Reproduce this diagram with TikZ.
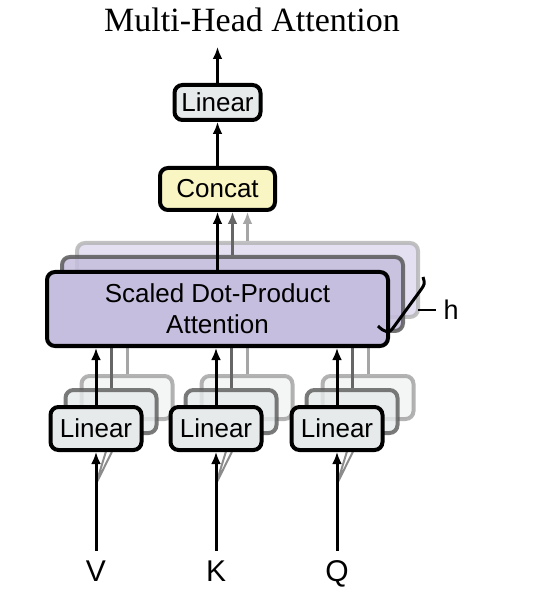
\documentclass[tikz,border=0pt]{standalone}
\usepackage{fontspec}
\setmainfont{Liberation Serif}
\setsansfont{Liberation Sans}
\usetikzlibrary{arrows.meta}
\definecolor{linfill}{HTML}{E6EAEA}
\definecolor{catfill}{HTML}{FAF6C4}
\definecolor{attfill}{HTML}{C6BEDE}
\definecolor{attback}{HTML}{DDD8EE}
\begin{document}
\begin{tikzpicture}[x=0.5pt, y=-0.5pt,
        box/.style={draw, line width=2pt, rounded corners=4pt, inner sep=0pt, align=center, font=\sffamily\fontsize{13}{15.5}\selectfont},
        lin/.style={box, fill=linfill, minimum width=45.5pt, minimum height=21.5pt},
        lintwo/.style={lin, draw=black!65, fill=linfill, opacity=0.8},
        linthree/.style={lin, draw=black!40, fill=linfill!60, opacity=0.75},
        att/.style={box, fill=attfill, minimum width=170.5pt, minimum height=37pt},
        atttwo/.style={att, draw=black!65, opacity=0.85},
        attthree/.style={att, draw=black!30, fill=attback, opacity=0.8},
        arr/.style={line width=1.5pt, -{Latex[length=6pt, width=5pt]}},
        shade/.style={line width=1.5pt},
        lab/.style={anchor=base, inner sep=4pt, text height=11pt, text depth=0pt, font=\sffamily\fontsize{15}{18}\selectfont}]
        \useasboundingbox (0,0) rectangle (543,597);
        \node[font=\fontsize{17}{20}\selectfont] (title) at (252,20) {Multi-Head Attention};
        \node[attthree] (sdpa3) at (247.5,280) {};
        \node[atttwo] (sdpa2) at (232.5,294) {};
        \node[linthree] (linV3) at (127,397.5) {};
        \node[lintwo] (linV2) at (111,411.5) {};
        \node[linthree] (linK3) at (247,397.5) {};
        \node[lintwo] (linK2) at (231,411.5) {};
        \node[linthree] (linQ3) at (368,397.5) {};
        \node[lintwo] (linQ2) at (352,411.5) {};
        \draw[shade, black!35] (linV3) -- (linV3 |- sdpa2.south);
        \draw[shade, black!60] (linV2) -- (linV2 |- sdpa2.south);
        \draw[shade, black!35] (linK3) -- (linK3 |- sdpa2.south);
        \draw[shade, black!60] (linK2) -- (linK2 |- sdpa2.south);
        \draw[shade, black!35] (linQ3) -- (linQ3 |- sdpa2.south);
        \draw[shade, black!60] (linQ2) -- (linQ2 |- sdpa2.south);
        \coordinate (splitV) at (96,484);
        \coordinate (splitK) at (216,484);
        \coordinate (splitQ) at (337,484);
        \draw[black!45, line width=1pt] (splitV) -- (linV2.south) (splitV) -- (linV3.south);
        \draw[black!45, line width=1pt] (splitK) -- (linK2.south) (splitK) -- (linK3.south);
        \draw[black!45, line width=1pt] (splitQ) -- (linQ2.south) (splitQ) -- (linQ3.south);
        \node[att] (sdpa) at (217.5,309) {Scaled Dot-Product\\Attention};
        \node[lin] (linV) at (96,428.5) {Linear};
        \node[lin] (linK) at (216,428.5) {Linear};
        \node[lin] (linQ) at (337,428.5) {Linear};
        \node[box, fill=catfill, minimum width=57.5pt, minimum height=21pt] (concat) at (217.5,189) {Concat};
        \node[box, fill=linfill, minimum width=43pt, minimum height=17.5pt] (linout) at (217.5,102.5) {Linear};
        \coordinate (out) at (217.5,47);
        \node[lab] (labV) at (96,581) {V};
        \node[lab] (labK) at (216,581) {K};
        \node[lab] (labQ) at (337,581) {Q};
        \draw[arr] (labV) -- (linV);
        \draw[arr] (labK) -- (linK);
        \draw[arr] (labQ) -- (linQ);
        \draw[arr] (linV) -- (linV |- sdpa.south);
        \draw[arr] (linK) -- (linK |- sdpa.south);
        \draw[arr] (linQ) -- (linQ |- sdpa.south);
        \draw[arr, black!35] (sdpa3) -- (sdpa3 |- concat.south);
        \draw[arr, black!60] (sdpa2) -- (sdpa2 |- concat.south);
        \draw[arr] (sdpa) -- (concat);
        \draw[arr] (concat) -- (linout);
        \draw[arr] (linout) -- (out);
        \draw[line width=1.5pt] (378,326) .. controls (384,332) and (389,334) .. (393,328) -- (420,291) .. controls (425,284) .. (423,277);
        \coordinate (brace) at (418,310);
        \node[font=\sffamily\fontsize{13.5}{16}\selectfont] (hlabel) at (451,310) {h};
        \draw[line width=0.8pt] (brace) -- (hlabel);
    \end{tikzpicture}
\end{document}
